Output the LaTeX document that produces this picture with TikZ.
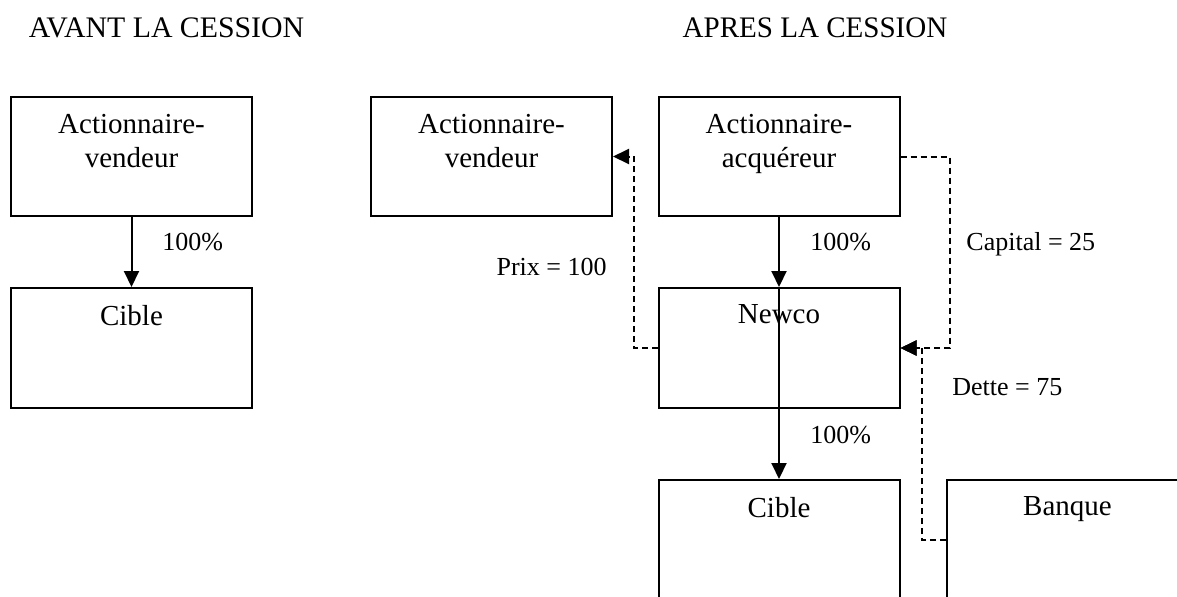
\documentclass[tikz,border=0pt]{standalone}
\usepackage{fontspec}
\setmainfont{Liberation Serif}
\usetikzlibrary{arrows.meta}

\begin{document}
\begin{tikzpicture}
  [x=0.5pt,y=-0.5pt,
   entite/.style={draw,line width=1pt,minimum width=120.5pt,minimum height=60pt,inner sep=0pt},
   dedans/.style={anchor=north,align=center,inner sep=0pt,yshift=-8.75pt,font=\fontsize{14.5}{17}\selectfont},
   titre/.style={anchor=base,inner sep=0pt,font=\fontsize{14.9}{17}\selectfont},
   chiffre/.style={inner sep=0pt,font=\fontsize{13}{15}\selectfont},
   fleche/.style={line width=1pt,-{Triangle[length=8pt,width=7.5pt]}},
   flux/.style={fleche,dash pattern=on 3pt off 2pt}]
  \useasboundingbox (0,0) rectangle (1177,596);
  \clip (0,0) rectangle (1177,596);

  % titres
  \node[titre] (avant) at (166.5,37) {AVANT LA CESSION};
  \node[titre,xscale=0.975] (apres) at (815,37) {APRES LA CESSION};

  % avant
  \node[entite,minimum height=59.5pt,label={[dedans]north:{Actionnaire-\\vendeur}}] (av1) at (131.5,156.5) {};
  \node[entite,label={[dedans]north:Cible}] (cib1) at (131.5,348) {};

  % apres
  \node[entite,minimum height=59.5pt,label={[dedans]north:{Actionnaire-\\vendeur}}] (av2) at (491.5,156.5) {};
  \node[entite,minimum height=59.5pt,label={[dedans]north:{Actionnaire-\\acquéreur}}] (acq) at (779,156.5) {};
  \node[entite,label={[dedans]north:Newco}] (newco) at (779,348) {};
  \node[entite,label={[dedans]north:Cible}] (cib2) at (779,540) {};
  \node[entite,label={[dedans]north:Banque}] (banque) at (1067.5,540) {};

  \foreach \from/\to in {av1/cib1,acq/newco,newco.north/cib2}
    \draw[fleche] (\from) -- (\to);

  \draw[flux] (newco.west) -- ++(-24,0) |- (av2.east);
  \draw[flux] (acq.east) -- ++(49,0) |- (newco.east);
  \draw[flux] (banque.west) -- ++(-24,0) |- (newco.east);

  \node[chiffre,anchor=base west] (pc1) at (162,250) {100\%};
  \node[chiffre,anchor=base west] (pc2) at (810,250) {100\%};
  \node[chiffre,anchor=base west] (pc3) at (810,443) {100\%};
  \node[chiffre,anchor=base east] (prix) at (607,275) {Prix = 100};
  \node[chiffre,anchor=base west] (capital) at (966,250) {Capital = 25};
  \node[chiffre,anchor=base west] (dette) at (952,395) {Dette = 75};
\end{tikzpicture}
\end{document}
